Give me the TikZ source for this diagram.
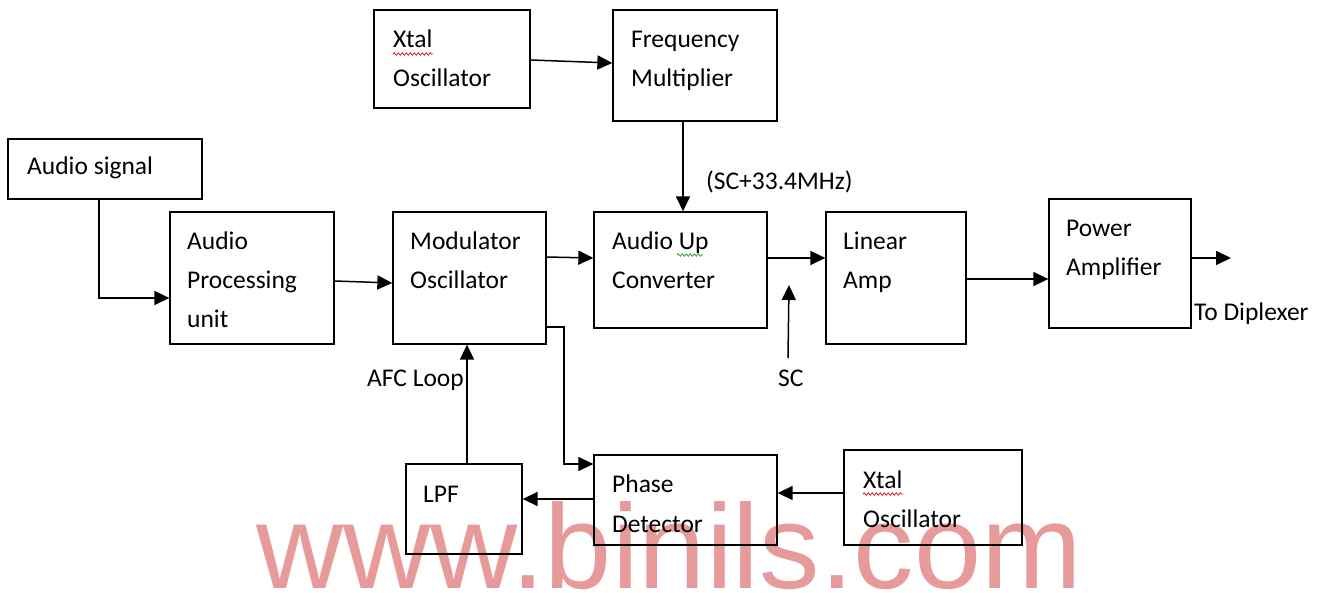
\documentclass[tikz,border=0pt]{standalone}
\usepackage{fontspec}
\setmainfont{Carlito}
\newfontfamily\wmfont{Liberation Sans}
\usetikzlibrary{arrows.meta,decorations.pathmorphing,fit}
\definecolor{wmpink}{HTML}{E79A9A}
\definecolor{spellred}{HTML}{E02020}
\definecolor{spellgreen}{HTML}{30A030}
\begin{document}
\begin{tikzpicture}[x=1pt,y=-1pt,
  blk/.style={draw,line width=1.3pt,inner sep=0pt},
  txt/.style={anchor=base west,inner sep=0pt,font=\fontsize{25.5}{30}\selectfont},
  con/.style={line width=1.5pt,-{Triangle[length=15pt,width=14pt]}},
  squig/.style={decorate,decoration={snake,amplitude=1.2pt,segment length=4pt},line width=0.8pt}]
\fill[white] (0,0) rectangle (1323,593);
\useasboundingbox (0,0) rectangle (1323,593);
% watermark
\node[anchor=base west,inner sep=0pt,text=wmpink,xscale=1.007,font=\wmfont\fontsize{120}{120}\selectfont] (wm) at (256,588) {www.binils.com};
% boxes
\node[blk,fit={(374,10)(530,108)}] (xtal1) {};
\node[blk,fit={(613,10)(777,121)}] (fm) {};
\node[blk,fit={(8,139)(202,199)}] (as) {};
\node[blk,fit={(170,212)(334,344)}] (ap) {};
\node[blk,fit={(393,212)(546,344)}] (mo) {};
\node[blk,fit={(594,212)(767,328)}] (auc) {};
\node[blk,fit={(826,212)(966,344)}] (la) {};
\node[blk,fit={(1049,199)(1191,328)}] (pa) {};
\node[blk,fit={(406,464)(522,554)}] (lpf) {};
\node[blk,fit={(594,455)(777,545)}] (pd) {};
\node[blk,fit={(844,450)(1022,545)}] (xtal2) {};
% box texts
\node[txt] (t1a) at (393,48) {Xtal};
\node[txt] (t1b) at (393,87) {Oscillator};
\node[txt] (t2a) at (631,48) {Frequency};
\node[txt] (t2b) at (631,87) {Multiplier};
\node[txt] (t3) at (27,175) {Audio signal};
\node[txt] (t4a) at (187,250) {Audio};
\node[txt] (t4b) at (187,289) {Processing};
\node[txt] (t4c) at (187,328) {unit};
\node[txt] (t5a) at (410,250) {Modulator};
\node[txt] (t5b) at (410,289) {Oscillator};
\node[txt] (t6a) at (612,250) {Audio Up};
\node[txt] (t6b) at (612,289) {Converter};
\node[txt] (t7a) at (843,250) {Linear};
\node[txt] (t7b) at (843,289) {Amp};
\node[txt] (t8a) at (1066,237) {Power};
\node[txt] (t8b) at (1066,276) {Amplifier};
\node[txt] (t9) at (423,502) {LPF};
\node[txt] (t10a) at (612,493) {Phase};
\node[txt] (t10b) at (612,532) {Detector};
\node[txt] (t11a) at (863,488) {Xtal};
\node[txt] (t11b) at (863,527) {Oscillator};
% spell-check squiggles
\draw[squig,spellred] (393,54) -- (433,54);
\draw[squig,spellred] (863,494) -- (903,494);
\draw[squig,spellgreen] (677,255) -- (703,255);
% free labels
\node[txt] (l1) at (706,190) {(SC+33.4MHz)};
\node[txt] (l2) at (778,387) {SC};
\node[txt] (l3) at (367,387) {AFC Loop};
\node[txt] (l4) at (1194,321) {To Diplexer};
% connectors
\coordinate (scin) at (788,358);
\coordinate (sctip) at (789,285);
\coordinate (out) at (1231,258);
\draw[con] (xtal1.east |- 0,60) -- (fm.west |- 0,63);
\draw[con] (683,0 |- fm.south) -- (683,0 |- auc.north);
\draw[con] (99,0 |- as.south) |- (ap.west |- 0,298);
\draw[con] (ap.east |- 0,281) -- (mo.west |- 0,283);
\draw[con] (mo.east |- 0,257) -- (auc.west |- 0,258);
\draw[con] (auc.east |- 0,258) -- (la.west |- 0,258);
\draw[con] (scin) -- (sctip);
\draw[con] (la.east |- 0,279) -- (pa.west |- 0,279);
\draw[con] (pa.east |- 0,258) -- (out);
\draw[con] (mo.east |- 0,327) -- (564,327) |- (pd.west |- 0,464);
\draw[con] (pd.west |- 0,499) -- (lpf.east |- 0,499);
\draw[con] (xtal2.west |- 0,493) -- (pd.east |- 0,493);
\draw[con] (467,0 |- lpf.north) -- (467,0 |- mo.south);
\end{tikzpicture}
\end{document}
